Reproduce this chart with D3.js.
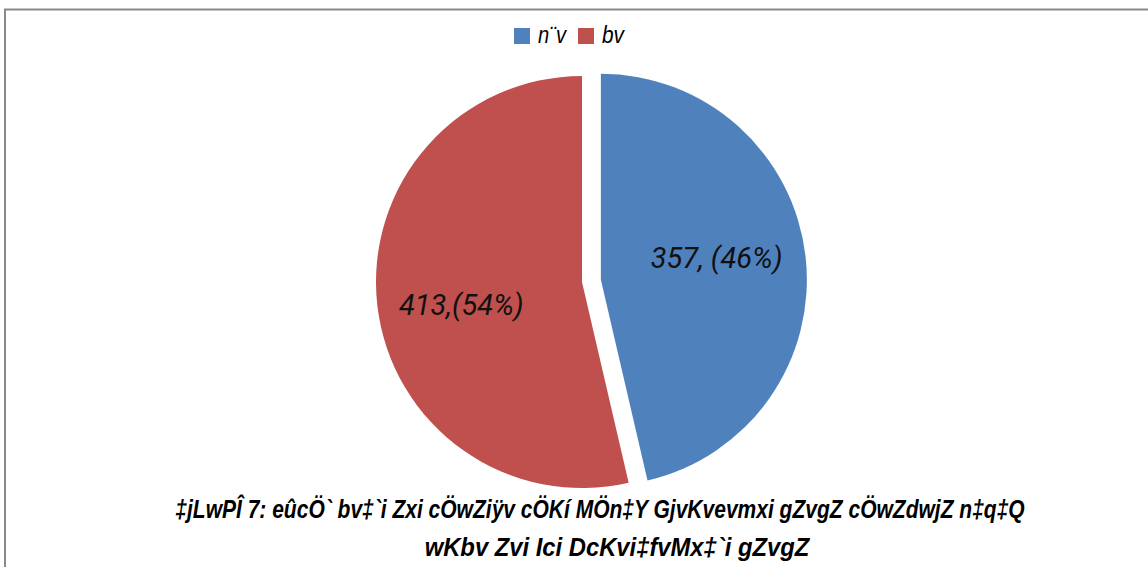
<!DOCTYPE html>
<html>
<head>
<meta charset="utf-8">
<script src="https://cdn.jsdelivr.net/npm/d3@7"></script>
<style>
  body { margin: 0; background: #fff; }
</style>
</head>
<body>
<div id="canvas"></div>
<script>
const width = 1148;
const height = 567;

// data
var categories = ["n¨v", "bv"];
var values = [357, 413];
var labels = ["357, (46%)", "413,(54%)"];
var colors = ["#4f81bd", "#c0504d"];
var titleLines = [
    "‡jLwPÎ 7: eûcÖ` bv‡`i Zxi cÖwZiÿv cÖKí MÖn‡Y GjvKvevmxi gZvgZ cÖwZdwjZ n‡q‡Q",
    "wKbv Zvi Ici DcKvi‡fvMx‡`i gZvgZ"
];

const svg = d3.select("#canvas")
    .append("svg")
    .attr("width", width)
    .attr("height", height)
    .style("background-color", "white");

// chart border
svg.append("rect")
    .attr("x", 5)
    .attr("y", 9.5)
    .attr("width", width + 20)
    .attr("height", height + 20)
    .attr("fill", "none")
    .attr("stroke", "#898989")
    .attr("stroke-width", 2);

var cx = 582, cy = 282, r = 206;
var explode = 19;

var pie = d3.pie().sort(null).value(d => d);
var arcs = pie(values);
var arc = d3.arc().innerRadius(0).outerRadius(r);

var slices = svg.selectAll(".slice")
    .data(arcs)
    .join("g")
    .attr("class", "slice")
    .attr("transform", (d, i) => {
        var dx = 0, dy = 0;
        if (i === 0) {
            var mid = (d.startAngle + d.endAngle) / 2;
            dx = Math.sin(mid) * explode;
            dy = -Math.cos(mid) * explode;
        }
        return `translate(${cx + dx},${cy + dy})`;
    });

slices.append("path")
    .attr("d", arc)
    .attr("fill", (d, i) => colors[i]);

// excel puts the labels a bit off the centroid line
var labelArc = d3.arc().innerRadius(r * 0.59).outerRadius(r * 0.59);
var nudgeX = [-5, 0];
var nudgeY = [-8, 9];
slices.append("text")
    .attr("transform", (d, i) => {
        var c = labelArc.centroid(d);
        return `translate(${c[0] + nudgeX[i]},${c[1] + nudgeY[i]})`;
    })
    .attr("text-anchor", "middle")
    .attr("dy", "0.35em")
    .attr("font-family", "Roboto, 'Open Sans', sans-serif")
    .attr("font-style", "italic")
    .attr("font-size", "29px")
    .attr("fill", "#111")
    .text((d, i) => labels[i]);

// legend
var legend = svg.append("g");
var legendX = [514, 578];
categories.forEach((c, i) => {
    legend.append("rect")
        .attr("x", legendX[i])
        .attr("y", 28)
        .attr("width", 16)
        .attr("height", 16)
        .attr("fill", colors[i]);
    legend.append("text")
        .attr("x", legendX[i] + 24)
        .attr("y", 43)
        .attr("font-family", "'Liberation Sans', sans-serif")
        .attr("font-style", "italic")
        .attr("font-size", "23px")
        .attr("textLength", i === 0 ? 28 : 22)
        .attr("lengthAdjust", "spacingAndGlyphs")
        .attr("fill", "#000")
        .text(c);
});

// title, squeezed horizontally to look like the narrow font of the original
var titleY = [518, 556];
var titleX = [600, 617];
var titleW = [850, 385];
titleLines.forEach((t, i) => {
    var txt = svg.append("text")
        .attr("text-anchor", "middle")
        .attr("font-family", "'Liberation Sans', sans-serif")
        .attr("font-style", "italic")
        .attr("font-weight", "bold")
        .attr("font-size", "26px")
        .attr("fill", "#000")
        .text(t);
    var k = titleW[i] / txt.node().getComputedTextLength();
    txt.attr("transform", `translate(${titleX[i]},${titleY[i]}) scale(${k},1)`);
});
</script>
</body>
</html>
